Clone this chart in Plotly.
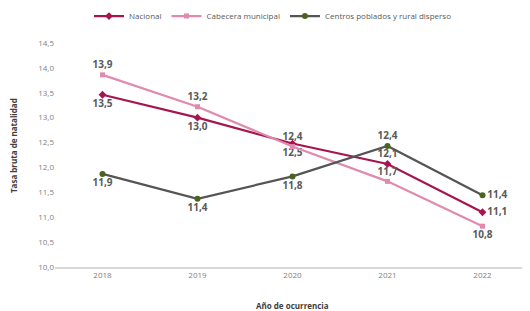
import plotly.graph_objects as go

years = ["2018", "2019", "2020", "2021", "2022"]
nacional = [13.46, 13.0, 12.48, 12.07, 11.1]
cabecera = [13.86, 13.22, 12.42, 11.72, 10.82]
centros = [11.87, 11.37, 11.82, 12.43, 11.44]

nac_pos = ["bottom center", "bottom center", "bottom center", "top center", "middle right"]
cab_pos = ["top center", "top center", "top center", "top center", "bottom center"]
cen_pos = ["bottom center", "bottom center", "bottom center", "top center", "middle right"]

x_title = "Año de ocurrencia"
y_title = "Tasa bruta de natalidad"

def lab(vals):
    return [f"{v:.1f}".replace(".", ",") for v in vals]

font = "Open Sans"
lblfont = dict(family=font, size=10, color="#595959", weight="bold")

fig = go.Figure()
fig.add_trace(go.Scatter(
    x=years, y=nacional, name="Nacional", mode="lines+markers+text",
    line=dict(color="#A6154F", width=2.2),
    marker=dict(symbol="diamond", size=6, color="#A6154F"),
    text=lab(nacional), textposition=nac_pos, textfont=lblfont,
))
fig.add_trace(go.Scatter(
    x=years, y=cabecera, name="Cabecera municipal", mode="lines+markers+text",
    line=dict(color="#E08AAE", width=2.2),
    marker=dict(symbol="square", size=5, color="#E08AAE"),
    text=lab(cabecera), textposition=cab_pos, textfont=lblfont,
))
fig.add_trace(go.Scatter(
    x=years, y=centros, name="Centros poblados y rural disperso", mode="lines+markers+text",
    line=dict(color="#555555", width=2.2),
    marker=dict(symbol="circle", size=6, color="#4B6320"),
    text=lab(centros), textposition=cen_pos, textfont=lblfont,
))

fig.update_layout(
    width=530, height=311,
    margin=dict(l=47, r=8, t=35, b=52, autoexpand=False),
    paper_bgcolor="white", plot_bgcolor="white",
    font=dict(family=font, size=8, color="#7F7F7F"),
    showlegend=True,
    legend=dict(orientation="h", xref="container", x=0.5, xanchor="center",
                yref="container", y=0.974, yanchor="middle",
                font=dict(size=8, color="#595959"),
                itemwidth=30, tracegroupgap=0),
    xaxis=dict(type="category", range=[-0.5, 4.5], showgrid=False, automargin=False,
               showline=True, linecolor="#D9D9D9", linewidth=1.5,
               ticks="", tickfont=dict(size=8, color="#7F7F7F")),
    yaxis=dict(range=[10, 14.5], dtick=0.5, tickformat=".1f", automargin=False,
               showgrid=False, zeroline=False, showline=False, ticks="",
               tickfont=dict(size=8, color="#7F7F7F")),
    separators=",.",
    annotations=[
        dict(text=x_title, xref="paper", yref="paper", x=0.5, y=0, yshift=-38,
             xanchor="center", yanchor="middle", showarrow=False,
             font=dict(family=font, size=8, color="#404040", weight="bold")),
        dict(text=y_title, xref="paper", yref="paper", x=0, y=0.54, xshift=-42,
             xanchor="center", yanchor="middle", textangle=-90, showarrow=False,
             font=dict(family=font, size=8, color="#404040", weight="bold")),
    ],
)

fig.write_html("out.html")
